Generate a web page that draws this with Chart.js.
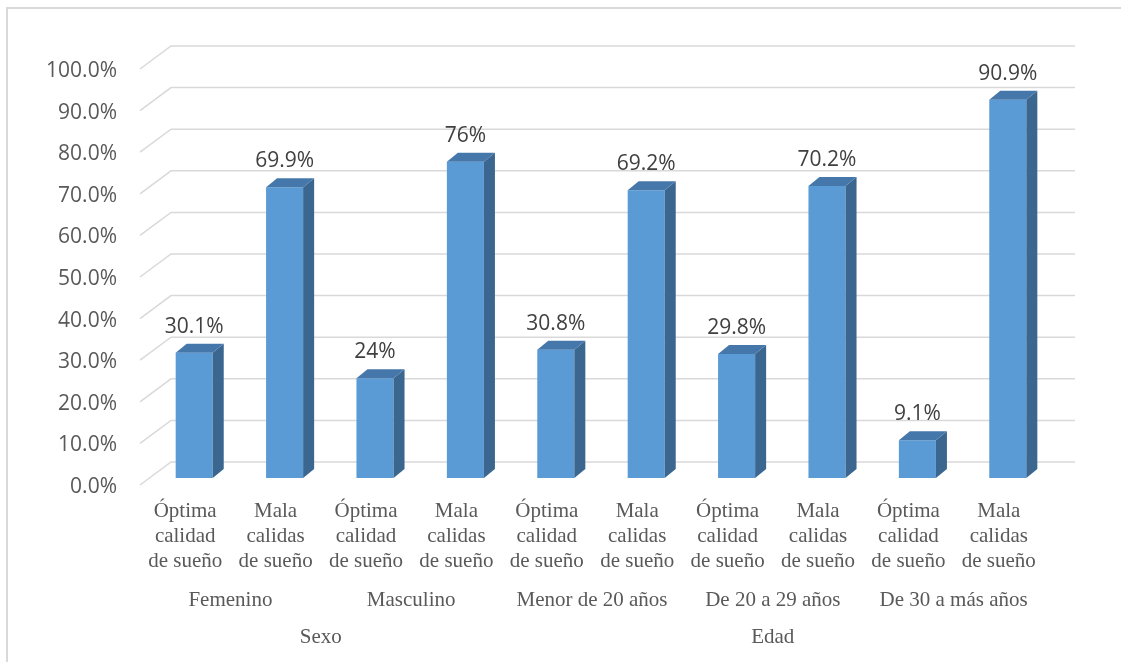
<!DOCTYPE html>
<html>
<head>
<meta charset="utf-8">
<script src="https://cdn.jsdelivr.net/npm/chart.js@4"></script>
<style>
  html, body { margin: 0; padding: 0; background: #fff; }
  #wrap { position: relative; width: 1121px; height: 662px; }
</style>
</head>
<body>
<div id="wrap"><canvas id="chart" width="1121" height="662"></canvas></div>
<script>
// Bar categories (each label split on its lines)
const categories = [
  ['Óptima', 'calidad', 'de sueño'], ['Mala', 'calidas', 'de sueño'],
  ['Óptima', 'calidad', 'de sueño'], ['Mala', 'calidas', 'de sueño'],
  ['Óptima', 'calidad', 'de sueño'], ['Mala', 'calidas', 'de sueño'],
  ['Óptima', 'calidad', 'de sueño'], ['Mala', 'calidas', 'de sueño'],
  ['Óptima', 'calidad', 'de sueño'], ['Mala', 'calidas', 'de sueño']
];
// Second and third level of the category axis
const subGroups = ['Femenino', 'Masculino', 'Menor de 20 años', 'De 20 a 29 años', 'De 30 a más años'];
const subGroupSpans = [2, 2, 2, 2, 2];
const topGroups = ['Sexo', 'Edad'];
const topGroupSpans = [4, 6];

// Percentages
const values = [30.1, 69.9, 24, 76, 30.8, 69.2, 29.8, 70.2, 9.1, 90.9];

const DEPTH_X = 11, DEPTH_Y = 9;     // bar depth
const WALL_DX = 22, WALL_DY = 16;    // back wall offset from bar plane
const FRONT_DX = 9, FRONT_DY = 7;    // front edge offset from bar plane
const GRID = '#d9d9d9';
const TEXT = '#595959';

const threeD = {
  id: 'threeD',
  beforeDraw(chart) {
    const ctx = chart.ctx;
    ctx.save();
    ctx.strokeStyle = GRID;
    ctx.lineWidth = 2;
    ctx.beginPath();
    ctx.moveTo(7, 662);
    ctx.lineTo(7, 8);
    ctx.lineTo(1121, 8);
    ctx.stroke();
    ctx.restore();
  },
  beforeDatasetsDraw(chart) {
    const { ctx, chartArea, scales: { y } } = chart;
    ctx.save();
    ctx.strokeStyle = GRID;
    ctx.lineWidth = 1.5;
    y.ticks.forEach(t => {
      const py = y.getPixelForValue(t.value);
      const x0 = chartArea.left - FRONT_DX;
      const xb = chartArea.left + WALL_DX;
      ctx.beginPath();
      ctx.moveTo(x0, py + FRONT_DY);
      ctx.lineTo(xb, py - WALL_DY);
      ctx.lineTo(chartArea.right + WALL_DX, py - WALL_DY);
      ctx.stroke();
    });
    ctx.restore();
  },
  afterDatasetsDraw(chart) {
    const ctx = chart.ctx;
    const meta = chart.getDatasetMeta(0);
    ctx.save();
    meta.data.forEach((bar, i) => {
      const { x, y, base, width } = bar.getProps(['x', 'y', 'base', 'width'], true);
      const l = x - width / 2, r = x + width / 2;
      // side face
      ctx.fillStyle = '#3a6690';
      ctx.beginPath();
      ctx.moveTo(r, y);
      ctx.lineTo(r + DEPTH_X, y - DEPTH_Y);
      ctx.lineTo(r + DEPTH_X, base - DEPTH_Y);
      ctx.lineTo(r, base);
      ctx.closePath();
      ctx.fill();
      // top face
      ctx.fillStyle = '#4677aa';
      ctx.beginPath();
      ctx.moveTo(l, y);
      ctx.lineTo(l + DEPTH_X, y - DEPTH_Y);
      ctx.lineTo(r + DEPTH_X, y - DEPTH_Y);
      ctx.lineTo(r, y);
      ctx.closePath();
      ctx.fill();
      // value label
      ctx.fillStyle = '#404040';
      ctx.font = '21px "Open Sans"';
      ctx.textAlign = 'center';
      ctx.textBaseline = 'middle';
      ctx.fillText(values[i] + '%', x, y - 26);
    });
    ctx.restore();
  },
  afterDraw(chart) {
    const { ctx, scales: { x } } = chart;
    ctx.save();
    ctx.fillStyle = TEXT;
    ctx.font = '21px "Liberation Serif"';
    ctx.textAlign = 'center';
    ctx.textBaseline = 'middle';
    const drawRow = (labels, spans, py) => {
      let start = 0;
      labels.forEach((lab, k) => {
        const end = start + spans[k] - 1;
        const cx = (x.getPixelForValue(start) + x.getPixelForValue(end)) / 2 - FRONT_DX;
        ctx.fillText(lab, cx, py);
        start += spans[k];
      });
    };
    drawRow(subGroups, subGroupSpans, 600);
    drawRow(topGroups, topGroupSpans, 637);
    ctx.restore();
  }
};

new Chart(document.getElementById('chart'), {
  type: 'bar',
  data: {
    labels: categories,
    datasets: [{
      data: values,
      backgroundColor: '#5b9bd5',
      borderWidth: 0,
      barPercentage: 0.41,
      categoryPercentage: 1
    }]
  },
  options: {
    responsive: false,
    animation: false,
    layout: { padding: { top: 62, right: 68, left: 0, bottom: 0 } },
    plugins: { legend: { display: false }, tooltip: { enabled: false } },
    scales: {
      x: {
        grid: { display: false, drawTicks: false },
        border: { display: false },
        afterFit(scale) { scale.height = 184; },
        ticks: {
          color: TEXT,
          font: { family: 'Liberation Serif', size: 21, lineHeight: 1.19 },
          padding: 21,
          labelOffset: -FRONT_DX,
          maxRotation: 0,
          autoSkip: false
        }
      },
      y: {
        min: 0,
        max: 100,
        grid: { display: false, drawTicks: false },
        border: { display: false },
        afterFit(scale) { scale.width = 149; },
        ticks: {
          stepSize: 10,
          color: TEXT,
          font: { family: 'Open Sans', size: 21 },
          padding: 32,
          labelOffset: FRONT_DY + 2,
          callback: v => v.toFixed(1) + '%'
        }
      }
    }
  },
  plugins: [threeD]
});
</script>
</body>
</html>
